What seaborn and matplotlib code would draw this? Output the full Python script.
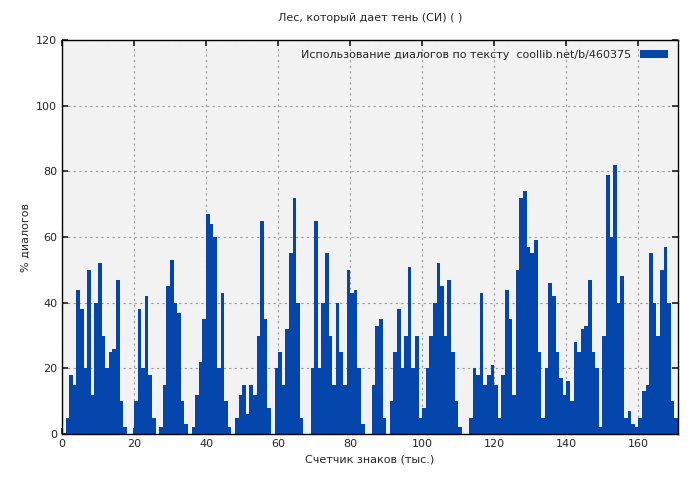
import numpy as np
import pandas as pd
import matplotlib
matplotlib.use("Agg")
import matplotlib.pyplot as plt
import seaborn as sns

chars_k = list(range(0, 172))
dialog_pct = [0, 5, 18, 15, 44, 38, 20, 50, 12, 40, 52, 30, 20, 25, 26, 47, 10, 2, 0, 0,
              10, 38, 20, 42, 18, 5, 0, 2, 15, 45, 53, 40, 37, 10, 3, 0, 2, 12, 22, 35,
              67, 64, 60, 20, 43, 10, 2, 0, 5, 12, 15, 6, 15, 12, 30, 65, 35, 8, 0, 20,
              25, 15, 32, 55, 72, 40, 5, 0, 0, 20, 65, 20, 40, 55, 30, 15, 40, 25, 15, 50,
              43, 44, 20, 3, 0, 0, 15, 33, 35, 5, 0, 10, 25, 38, 20, 30, 51, 20, 30, 5,
              8, 20, 30, 40, 52, 45, 30, 47, 25, 10, 2, 0, 0, 5, 20, 18, 43, 15, 18, 21,
              15, 5, 18, 44, 35, 12, 50, 72, 74, 57, 55, 59, 25, 5, 20, 46, 42, 25, 17, 12,
              16, 10, 28, 25, 32, 33, 47, 25, 20, 2, 30, 79, 60, 82, 40, 48, 5, 7, 3, 2,
              5, 13, 15, 55, 40, 30, 50, 57, 40, 10, 5, 8]

df = pd.DataFrame({"x": chars_k, "y": dialog_pct})

sns.set_theme(style="white")
plt.rcParams['font.family'] = ['DejaVu Sans']
fig = plt.figure(figsize=(7, 4.8), dpi=100)
ax = fig.add_axes([62/700, 46/480, 616/700, 394/480])
ax.set_facecolor("#f2f2f2")
sns.histplot(data=df, x="x", weights="y", binwidth=1, binrange=(0, 172), element="step",
             fill=True, color="#0546ac", alpha=1, linewidth=0, ax=ax,
             label="Использование диалогов по тексту  coollib.net/b/460375")
ax.set_xlim(0, 171)
ax.set_ylim(0, 120)
ax.set_xticks(range(0, 161, 20))
ax.set_yticks(range(0, 121, 20))
ax.grid(True, color="#999999", linestyle=(0, (2, 3)), linewidth=0.8)
ax.set_axisbelow(True)
for s in ax.spines.values():
    s.set_color("black")
    s.set_linewidth(1)
ax.tick_params(labelsize=8, direction="in", length=4, left=True, bottom=True, right=True, top=True)
ax.tick_params(axis="both", which="both", labelright=False, labeltop=False)
ax.set_xlabel("Счетчик знаков (тыс.)", fontsize=8)
ax.set_ylabel("% диалогов", fontsize=8)
ax.set_title("Лес, который дает тень (СИ) ( )", fontsize=8, pad=14)
leg = ax.legend(loc="upper right", fontsize=8, frameon=False, handlelength=2.5, markerfirst=False)
fig.savefig("out.png", dpi=100)
